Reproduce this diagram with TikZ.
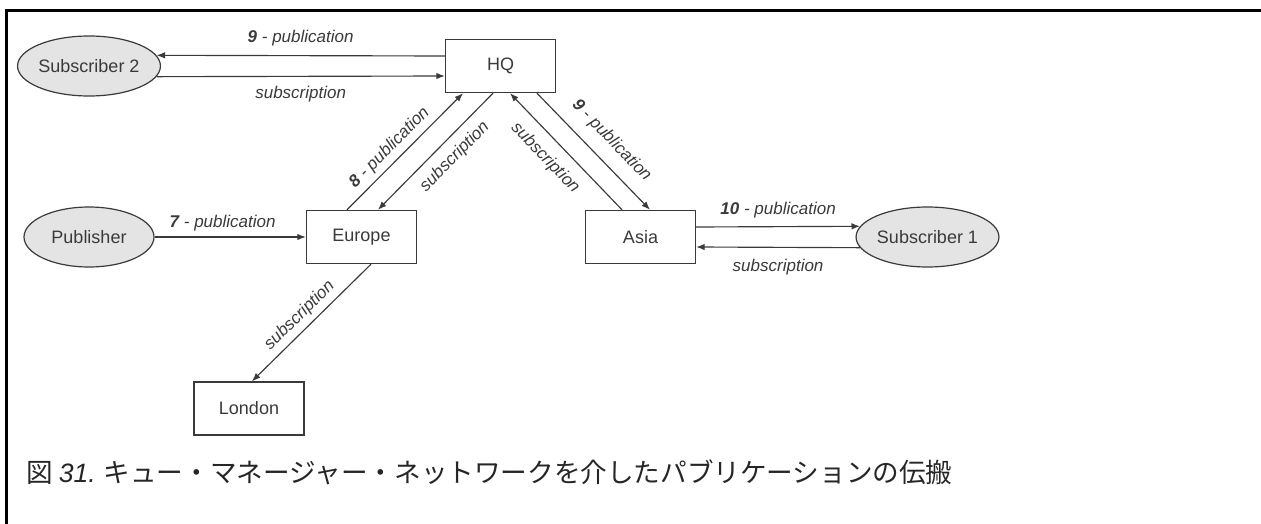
\documentclass[tikz,border=0pt]{standalone}
\usepackage{fontspec}
\setmainfont{Liberation Sans}
\newfontfamily\cjk{Noto Sans CJK JP}
\usepackage{xcolor}
\usepackage{tikz}
\usetikzlibrary{shapes.geometric,arrows.meta}
\definecolor{ink}{HTML}{3A3A3A}
\definecolor{appfill}{HTML}{E4E4E4}

\begin{document}
\begin{tikzpicture}[x=1pt,y=1pt,
    qmgr/.style={draw=ink,line width=1.4pt,minimum width=110pt,minimum height=53pt,inner sep=0pt,text=ink,font=\fontsize{18}{20}\selectfont},
    app/.style={ellipse,draw=ink,line width=1.2pt,fill=appfill,minimum width=130pt,minimum height=60pt,inner sep=0pt,text=ink,font=\fontsize{18}{20}\selectfont},
    arr/.style={draw=ink,line width=1.15pt,-{Latex[length=8.5pt,width=6.5pt]}},
    lbl/.style={text=ink,font=\fontsize{17}{20}\selectfont\itshape,inner sep=2pt}]
    \useasboundingbox (0,0) rectangle (1261,-524);
    \draw[line width=3pt] (6.5,-524) -- (6.5,-11) -- (1261,-11);
    \foreach \name/\txt/\x/\y in {hq/HQ/500.5/-66,europe/Europe/361.5/-237,asia/Asia/640.5/-237,london/London/249/-408.5}
      \node[qmgr] (\name) at (\x,\y) {\txt};
    \foreach \name/\txt/\x/\y in {sub2/Subscriber 2/89/-66,pub/Publisher/89/-237,sub1/Subscriber 1/927.5/-237}
      \node[app] (\name) at (\x,\y) {\txt};
    \draw[arr] ([yshift=10pt]hq.west) -- (sub2.9) node[lbl,midway,above=7pt]{\textbf{9} - publication};
    \draw[arr] (sub2.-9) -- ([yshift=-10pt]hq.west) node[lbl,midway,below=7pt]{subscription};
    \draw[arr] (pub.east) -- (europe.west) node[lbl,pos=0.45,above=3.5pt]{\textbf{7} - publication};
    \draw[arr] ([xshift=-14.5pt]europe.north) -- ([xshift=-37.5pt]hq.south) node[lbl,sloped,pos=0.45,above=3pt]{\textbf{8} - publication};
    \draw[arr] ([xshift=-7.5pt]hq.south) -- ([xshift=16.5pt]europe.north) node[lbl,sloped,pos=0.44,below=7pt]{subscription};
    \draw[arr] ([xshift=-18.5pt]asia.north) -- ([xshift=9.5pt]hq.south) node[lbl,sloped,pos=0.56,below=9pt]{subscription};
    \draw[arr] ([xshift=36.5pt]hq.south) -- ([xshift=9.5pt]asia.north) node[lbl,sloped,pos=0.53,above=10pt]{\textbf{9} - publication};
    \draw[arr] ([yshift=10pt]asia.east) -- (sub1.171) node[lbl,midway,above=6pt]{\textbf{10} - publication};
    \draw[arr] (sub1.189) -- ([yshift=-10pt]asia.east) node[lbl,midway,below=9pt]{subscription};
    \draw[arr] ([xshift=9.5pt]europe.south) -- ([xshift=3pt]london.north) node[lbl,sloped,pos=0.52,above=3pt]{subscription};
    \node[anchor=west,text=black!85,font=\fontsize{26.6}{30}\selectfont,inner sep=0pt] (caption) at (26,-472) {\cjk 図 {\rmfamily\itshape 31.} キュー・マネージャー・ネットワークを介したパブリケーションの伝搬};
\end{tikzpicture}
\end{document}
